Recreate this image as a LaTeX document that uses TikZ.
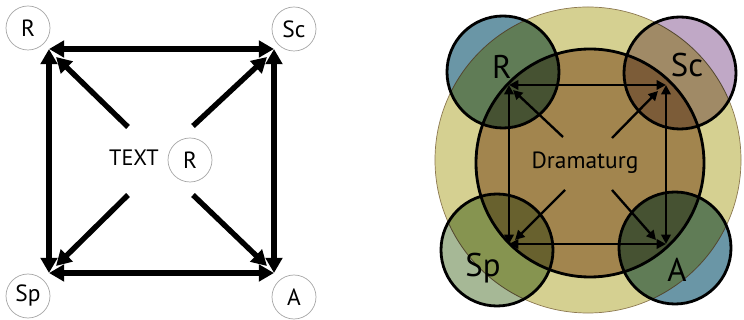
\documentclass[tikz,border=0pt]{standalone}
\usepackage{fontspec}
\setmainfont{PT Sans}
\usetikzlibrary{arrows.meta}

% Farben der rechten Seite
\definecolor{gelb}{RGB}{213,208,145}
\definecolor{gelbrand}{RGB}{140,120,80}
\definecolor{braun}{RGB}{162,133,78}
\definecolor{blauAussen}{RGB}{106,150,166}
\definecolor{blauMitte}{RGB}{96,124,86}
\definecolor{blauInnen}{RGB}{70,82,50}
\definecolor{lilaAussen}{RGB}{192,168,198}
\definecolor{lilaMitte}{RGB}{160,138,102}
\definecolor{lilaInnen}{RGB}{124,92,56}
\definecolor{gruenAussen}{RGB}{166,184,150}
\definecolor{gruenMitte}{RGB}{134,148,80}
\definecolor{gruenInnen}{RGB}{104,97,46}

\begin{document}
\begin{tikzpicture}[x=0.03cm,y=-0.03cm,
	kreis/.style={circle, draw=gray!70, line width=0.6pt, minimum size=1.32cm, inner sep=0pt, font=\fontsize{20}{22}\selectfont},
	kante/.style={line width=4.6pt, {Triangle[length=13pt,width=14pt]}-{Triangle[length=13pt,width=14pt]}},
	pfeil/.style={line width=4.6pt, -{Triangle[length=13pt,width=14pt]}},
	rolle/.style={circle, draw=black, line width=2.4pt, minimum size=3.36cm, inner sep=0pt},
	kante2/.style={line width=2pt, {Triangle[length=8pt,width=8pt]}-{Triangle[length=8pt,width=8pt]}},
	pfeil2/.style={line width=2pt, -{Triangle[length=8pt,width=8pt]}},
	gross/.style={font=\fontsize{28}{30}\selectfont},
	mittel/.style={font=\fontsize{19}{21}\selectfont}]
	%\draw [lightgray](0,0) grid (744,320);
	\useasboundingbox (0,0) rectangle (744,320);

	% Linke Seite: die vier Ecken und die Mitte
	\node[kreis] (R) at (28,28) {R};
	\node[kreis] (Sc) at (294,29) {Sc};
	\node[kreis] (Sp) at (28,296) {Sp};
	\node[kreis] (A) at (294,297) {A};
	\node[kreis] (Rm) at (190,160) {R};
	\node[mittel] (text) at (134,158) {TEXT};

	% Ecken des Quadrats
	\coordinate (lo) at (49,49);
	\coordinate (ro) at (274,49);
	\coordinate (lu) at (49,273);
	\coordinate (ru) at (274,273);

	% Zeichnet das Quadrat aus Doppelpfeilen
	\draw[kante] (lo) -- (ro);
	\draw[kante] (ro) -- (ru);
	\draw[kante] (ru) -- (lu);
	\draw[kante] (lu) -- (lo);

	% Zeichnet die Pfeile aus der Mitte
	\coordinate (m1) at (128,127);
	\coordinate (m2) at (193,126);
	\coordinate (m3) at (128,195);
	\coordinate (m4) at (193,195);
	\coordinate (z1) at (56,57);
	\coordinate (z2) at (267,57);
	\coordinate (z3) at (56,266);
	\coordinate (z4) at (267,266);
	\draw[pfeil] (m1) -- (z1);
	\draw[pfeil] (m2) -- (z2);
	\draw[pfeil] (m3) -- (z3);
	\draw[pfeil] (m4) -- (z4);

	% Rechte Seite: grosser gelber Kreis und brauner Kreis
	\coordinate (yc) at (588,160);
	\coordinate (bc) at (590,163);
	\fill[gelb] (yc) circle (4.59cm);
	\draw[gelbrand, line width=0.6pt] (yc) circle (4.59cm);
	\fill[braun] (bc) circle (3.42cm);

	% Die vier Rollen, je nach Lage anders gefaerbt
	\foreach \name/\pos/\aus/\mit/\inn in {
		kR/{(503,72)}/blauAussen/blauMitte/blauInnen,
		kSc/{(680,73)}/lilaAussen/lilaMitte/lilaInnen,
		kSp/{(497,250)}/gruenAussen/gruenMitte/gruenInnen,
		kA/{(675,248)}/blauAussen/blauMitte/blauInnen}
	{
		\node[rolle, fill=\aus, path picture={
			\fill[\mit] (yc) circle (4.59cm);
			\draw[gelbrand!60!black, line width=0.7pt] (yc) circle (4.59cm);
			\fill[\inn] (bc) circle (3.42cm);
		}] (\name) at \pos {};
	}

	% Rand des braunen Kreises
	\draw[black, line width=2.4pt] (bc) circle (3.42cm);

	% Quadrat rechts
	\coordinate (lo2) at (509,85);
	\coordinate (ro2) at (666,85);
	\coordinate (lu2) at (509,244);
	\coordinate (ru2) at (666,244);
	\draw[kante2] (lo2) -- (ro2);
	\draw[kante2] (ro2) -- (ru2);
	\draw[kante2] (ru2) -- (lu2);
	\draw[kante2] (lu2) -- (lo2);

	% Pfeile vom Dramaturg aus
	\coordinate (d1) at (563,137);
	\coordinate (d2) at (612,138);
	\coordinate (d3) at (565,190);
	\coordinate (d4) at (612,190);
	\coordinate (e1) at (513,90);
	\coordinate (e2) at (658,91);
	\coordinate (e3) at (515,240);
	\coordinate (e4) at (656,240);
	\draw[pfeil2] (d1) -- (e1);
	\draw[pfeil2] (d2) -- (e2);
	\draw[pfeil2] (d3) -- (e3);
	\draw[pfeil2] (d4) -- (e4);

	% Beschriftungen rechts
	\node[font=\fontsize{20}{22}\selectfont] (dram) at (585,163) {Dramaturg};
	\node[gross] (lR) at (502,67) {R};
	\node[gross] (lSc) at (687,65) {Sc};
	\node[gross] (lSp) at (483,268) {Sp};
	\node[gross] (lA) at (677,270) {A};

\end{tikzpicture}
\end{document}
